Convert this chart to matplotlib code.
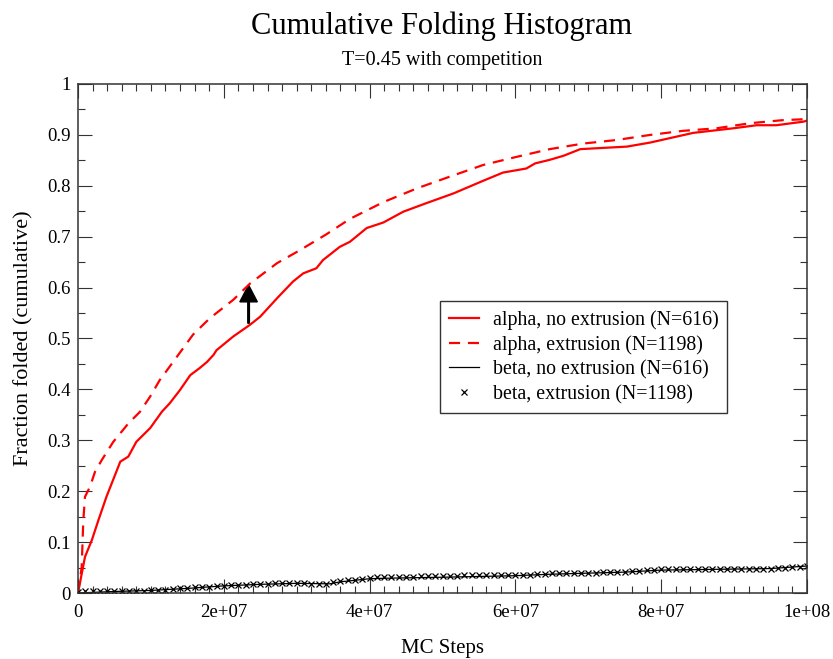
import numpy as np
import matplotlib
matplotlib.use("Agg")
import matplotlib.pyplot as plt
from matplotlib.ticker import MultipleLocator, FuncFormatter

plt.rcParams['font.family'] = ['Liberation Serif', 'DejaVu Serif']

# MC steps in units of 1e6
alpha_noext_x = [0, 0.96, 1.9, 2.8, 3.9, 5.8, 6.9, 8.0, 9.9, 11.5, 12.6, 14.0, 15.4,
                 16.7, 17.7, 18.6, 19.0, 21.3, 23.6, 25.0, 27.3, 29.5, 30.9, 32.7,
                 33.6, 35.9, 37.3, 39.6, 41.9, 44.6, 47.8, 51.5, 55.6, 58.3, 61.5,
                 62.7, 64.7, 66.6, 68.9, 75.3, 78.5, 84.4, 89.9, 93.1, 95.8, 99.5, 100]
alpha_noext_y = [0, 0.071, 0.104, 0.143, 0.189, 0.258, 0.268, 0.297, 0.324, 0.356,
                 0.373, 0.399, 0.428, 0.442, 0.454, 0.468, 0.477, 0.504, 0.527, 0.543,
                 0.579, 0.612, 0.628, 0.638, 0.654, 0.680, 0.690, 0.717, 0.728, 0.749,
                 0.766, 0.785, 0.810, 0.826, 0.834, 0.844, 0.851, 0.859, 0.872, 0.877,
                 0.885, 0.904, 0.913, 0.919, 0.919, 0.926, 0.928]

alpha_ext_x = [0, 0.5, 0.73, 0.96, 1.65, 2.33, 3.25, 4.84, 6.9, 8.5, 9.9, 11.2, 13.1,
               15.8, 18.1, 21.3, 23.6, 27.3, 30.5, 34.1, 37.3, 41.9, 46.5, 51.0, 55.6,
               60.2, 64.7, 69.3, 73.9, 78.5, 83.0, 87.6, 92.2, 96.7, 100]
alpha_ext_y = [0, 0.05, 0.143, 0.189, 0.209, 0.238, 0.261, 0.297, 0.333, 0.356, 0.386,
               0.418, 0.455, 0.508, 0.540, 0.576, 0.608, 0.648, 0.674, 0.705, 0.735,
               0.768, 0.795, 0.818, 0.841, 0.857, 0.872, 0.883, 0.890, 0.900, 0.908,
               0.913, 0.923, 0.929, 0.931]

beta_noext_x = [0, 5, 10, 15, 20, 25, 30, 34.5, 36, 40, 42, 50, 60, 65, 70, 75, 80,
                90, 95, 100]
beta_noext_y = [0, 0.003, 0.005, 0.009, 0.014, 0.017, 0.019, 0.018, 0.022, 0.028,
                0.029, 0.031, 0.034, 0.037, 0.039, 0.041, 0.045, 0.047, 0.048, 0.053]

# beta, extrusion: one point every 1e6 steps
beta_ext_y = [0.002, 0.003, 0.003, 0.003, 0.003, 0.003, 0.004, 0.004, 0.004, 0.004,
              0.005, 0.006, 0.006, 0.008, 0.009, 0.010, 0.011, 0.011, 0.012, 0.013,
              0.014, 0.015, 0.016, 0.016, 0.017, 0.018, 0.018, 0.019, 0.019, 0.019,
              0.019, 0.019, 0.018, 0.018, 0.018, 0.022, 0.024, 0.025, 0.026, 0.028,
              0.030, 0.031, 0.031, 0.031, 0.032, 0.032, 0.032, 0.033, 0.033, 0.033,
              0.034, 0.034, 0.034, 0.035, 0.035, 0.035, 0.035, 0.036, 0.036, 0.036,
              0.036, 0.036, 0.036, 0.037, 0.037, 0.039, 0.039, 0.039, 0.039, 0.040,
              0.040, 0.040, 0.041, 0.041, 0.041, 0.041, 0.044, 0.044, 0.045, 0.046,
              0.047, 0.047, 0.047, 0.047, 0.047, 0.048, 0.048, 0.048, 0.048, 0.048,
              0.048, 0.048, 0.048, 0.048, 0.048, 0.048, 0.049, 0.050, 0.051, 0.052,
              0.054]
beta_ext_x = list(range(len(beta_ext_y)))

labels = ["alpha, no extrusion (N=616)", "alpha, extrusion (N=1198)",
          "beta, no extrusion (N=616)", "beta, extrusion (N=1198)"]

fig = plt.figure(figsize=(8.33, 6.59), dpi=100)
ax = fig.add_axes([78/833, 1-593/659, 729/833, 509/659])

sc = 1e6
ax.plot(np.array(alpha_noext_x)*sc, alpha_noext_y, color='red', lw=1.6, label=labels[0])
ax.plot(np.array(alpha_ext_x)*sc, alpha_ext_y, color='red', lw=1.6,
        dashes=(5, 3.5), label=labels[1])
ax.plot(np.array(beta_noext_x)*sc, beta_noext_y, color='black', lw=0.9, label=labels[2])
ax.plot(np.array(beta_ext_x)*sc, beta_ext_y, ls='none', marker='x', ms=5,
        mew=0.9, color='black', label=labels[3])

ax.arrow(2.34e7, 0.530, 0, 0.075, width=2.2e5, head_width=2.4e6, head_length=0.033,
         length_includes_head=True, color='black')

ax.set_xlim(0, 1e8)
ax.set_ylim(0, 1)
ax.xaxis.set_major_locator(MultipleLocator(2e7))
ax.xaxis.set_minor_locator(MultipleLocator(2e6))
ax.yaxis.set_major_locator(MultipleLocator(0.1))
ax.yaxis.set_minor_locator(MultipleLocator(0.05))
fmt = FuncFormatter(lambda v, p: "%g" % v)
ax.xaxis.set_major_formatter(fmt)
ax.yaxis.set_major_formatter(fmt)
ax.tick_params(which='both', direction='in', top=True, right=True, width=0.8,
               color='#333333', labelsize=13.5)
ax.tick_params(which='major', length=10)
ax.tick_params(which='minor', length=5)
ax.tick_params(axis='x', pad=8)
ax.tick_params(axis='y', pad=5)
for s in ax.spines.values():
    s.set_linewidth(1.1)
    s.set_color('#333333')

ax.set_xlabel("MC Steps", fontsize=15, labelpad=13)
ax.set_ylabel("Fraction folded (cumulative)", fontsize=16, labelpad=10)

fig.text(442/833, 1-26/659, "Cumulative Folding Histogram", fontsize=22,
         ha='center', va='center')
fig.text(442/833, 1-60/659, "T=0.45 with competition", fontsize=14.5,
         ha='center', va='center')

leg = ax.legend(loc='upper left', bbox_to_anchor=(440/833, 1-301/659),
                bbox_transform=fig.transFigure, borderaxespad=0, fontsize=14.3,
                frameon=True, fancybox=False, edgecolor='#333333', framealpha=1,
                handlelength=1.5, handletextpad=0.7, borderpad=0.45,
                labelspacing=0.27)
leg.get_frame().set_linewidth(1.0)

fig.savefig("out.png", dpi=100)
